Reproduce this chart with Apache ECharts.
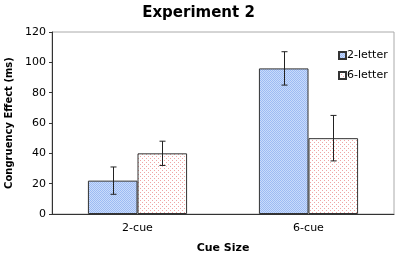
<!DOCTYPE html>
<html>
<head>
    <meta charset="utf-8">
    <title>Experiment 2</title>
    <script type="text/javascript" src="https://cdn.jsdelivr.net/npm/echarts@6/dist/echarts.min.js"></script>
</head>
<body style="margin:0;">
    <div id="main" style="width:397px; height:256px;"></div>
    <script type="text/javascript">

    // data
    var categories = ['2-cue', '6-cue'];
    var twoLetter = [22, 96];
    var sixLetter = [40, 50];
    var twoLetterErr = [9, 11];
    var sixLetterErr = [8, 15];

    // dotted fill patterns like the original spreadsheet chart
    function makePattern(bg, dot, step) {
        var c = document.createElement('canvas');
        c.width = step * 2;
        c.height = step * 2;
        var ctx = c.getContext('2d');
        ctx.fillStyle = bg;
        ctx.fillRect(0, 0, c.width, c.height);
        ctx.fillStyle = dot;
        ctx.fillRect(0, 0, 1, 1);
        ctx.fillRect(step, step, 1, 1);
        return c;
    }
    var bluePat = makePattern('#c9dbfb', '#9dbbf3', 1);
    var pinkPat = makePattern('#ffffff', '#f0a4a4', 2);

    var barCatGap = 0.42;

    function errorSeries(name, values, errs, side) {
        return {
            name: name + ' err',
            type: 'custom',
            z: 10,
            silent: true,
            data: values.map(function (v, i) { return [i, v - errs[i], v + errs[i]]; }),
            renderItem: function (params, api) {
                var band = api.size([1, 0])[0];
                var bw = band * (1 - barCatGap) / 2;
                var lo = api.coord([api.value(0), api.value(1)]);
                var hi = api.coord([api.value(0), api.value(2)]);
                var x = Math.round(lo[0] + side * bw / 2) + 0.5;
                var cap = 3;
                var st = { stroke: '#222', lineWidth: 1 };
                return {
                    type: 'group',
                    children: [
                        { type: 'line', shape: { x1: x, y1: lo[1], x2: x, y2: hi[1] }, style: st },
                        { type: 'line', shape: { x1: x - cap, y1: lo[1], x2: x + cap, y2: lo[1] }, style: st },
                        { type: 'line', shape: { x1: x - cap, y1: hi[1], x2: x + cap, y2: hi[1] }, style: st }
                    ]
                };
            }
        };
    }

    var myChart = echarts.init(document.getElementById('main'));

    var option = {
        animation: false,
        title: {
            text: 'Experiment 2',
            left: 'center',
            top: 1,
            textStyle: {
                fontFamily: 'DejaVu Sans',
                fontWeight: 'bold',
                fontSize: 15,
                color: '#000'
            }
        },
        legend: {
            orient: 'vertical',
            left: 333,
            top: 45,
            itemWidth: 7,
            itemHeight: 7,
            itemGap: 9,
            icon: 'rect',
            data: ['2-letter', '6-letter'],
            textStyle: {
                fontFamily: 'DejaVu Sans',
                fontSize: 11,
                color: '#000',
                padding: [0, 0, 0, -4]
            }
        },
        grid: {
            left: 52,
            right: 3,
            top: 32,
            bottom: 42,
            outerBoundsMode: 'none',
            show: true,
            borderColor: '#aaa',
            borderWidth: 1
        },
        xAxis: {
            type: 'category',
            data: categories,
            name: 'Cue Size',
            nameLocation: 'middle',
            nameGap: 29,
            nameTextStyle: {
                fontFamily: 'DejaVu Sans',
                fontWeight: 'bold',
                fontSize: 11,
                color: '#000'
            },
            axisLine: { lineStyle: { color: '#333' } },
            axisTick: { length: 3, lineStyle: { color: '#333' } },
            axisLabel: {
                fontFamily: 'DejaVu Sans',
                fontSize: 11,
                color: '#000',
                margin: 9
            }
        },
        yAxis: {
            type: 'value',
            min: 0,
            max: 120,
            interval: 20,
            name: 'Congruency Effect (ms)',
            nameLocation: 'middle',
            nameGap: 36,
            nameTextStyle: {
                fontFamily: 'DejaVu Sans',
                fontWeight: 'bold',
                fontSize: 10,
                color: '#000'
            },
            axisLine: { show: true, lineStyle: { color: '#333' } },
            axisTick: { show: true, length: 3, lineStyle: { color: '#333' } },
            splitLine: { show: false },
            axisLabel: {
                fontFamily: 'DejaVu Sans',
                fontSize: 11,
                color: '#000',
                margin: 6
            }
        },
        series: [
            {
                name: '2-letter',
                type: 'bar',
                data: twoLetter,
                barGap: '0%',
                barCategoryGap: '42%',
                itemStyle: {
                    color: { image: bluePat, repeat: 'repeat' },
                    borderColor: '#333',
                    borderWidth: 1
                }
            },
            {
                name: '6-letter',
                type: 'bar',
                data: sixLetter,
                barGap: '0%',
                barCategoryGap: '42%',
                itemStyle: {
                    color: { image: pinkPat, repeat: 'repeat' },
                    borderColor: '#333',
                    borderWidth: 1
                }
            },
            errorSeries('2-letter', twoLetter, twoLetterErr, -1),
            errorSeries('6-letter', sixLetter, sixLetterErr, 1)
        ]
    };

    myChart.setOption(option);

    </script>
</body>
</html>
